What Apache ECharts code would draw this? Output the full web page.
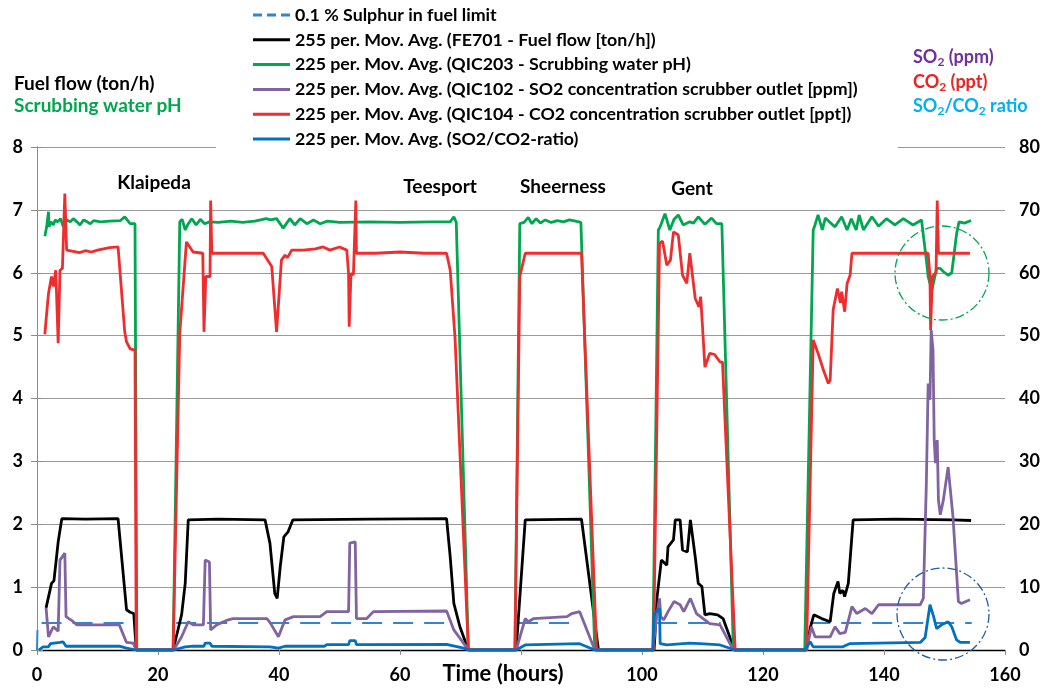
<!DOCTYPE html>
<html>
<head>
<meta charset="utf-8">
<script src="https://cdn.jsdelivr.net/npm/echarts@6/dist/echarts.min.js"></script>
<style>
  html, body { margin: 0; padding: 0; background: #fff; }
  #chart { width: 1046px; height: 688px; }
</style>
</head>
<body>
<div id="chart"></div>
<script>
// 时间轴刻度 (hours)
const xTicks = [0, 20, 40, 60, 80, 100, 120, 140, 160]

// 0.1 % S 限值 (SO2/CO2 ratio, right axis)
const sulphurLimit = [
  [0, 0], [0.1, 4.3], [14.9, 4.3], [15, null],
  [23, 4.3], [68, 4.3], [68.5, null],
  [79.5, 4.3], [89.5, 4.3], [90, null],
  [102.5, 4.3], [113, 4.3], [113.5, null],
  [127.8, 4.3], [154.5, 4.3]
]

// 燃油流量 ton/h (left axis)
const fuelFlow = [
  [1.5, 0.67], [1.8, 0.69], [2.4, 1.06], [2.8, 1.1], [3.5, 1.72], [4.1, 2.09], [8, 2.08], [13.4, 2.09],
  [14.8, 0.64], [15.4, 0.6], [16.0, 0.58], [16.4, 0],
  [22.5, 0], [23.9, 0.56], [24.5, 1.06], [25.0, 2.07], [30, 2.08], [37.7, 2.07], [38.5, 1.7], [39.3, 0.9],
  [39.7, 0.82], [40.2, 1.32], [40.8, 1.8], [41.5, 1.88], [42.3, 2.07], [55, 2.08], [67.7, 2.09],
  [68.3, 1.48], [68.9, 0.74], [69.9, 0.37], [71.3, 0],
  [79.2, 0], [80.7, 2.07], [90.0, 2.08], [92.8, 0],
  [102.0, 0], [102.5, 0.85], [103.2, 1.43], [104.1, 1.35], [104.3, 1.64], [105.2, 1.75], [105.5, 2.07],
  [106.3, 2.07], [106.7, 1.59], [107.5, 1.56], [108.0, 2.07], [108.8, 1.48], [109.3, 1.06], [109.9, 1.01],
  [110.4, 0.56], [111.2, 0.58], [112.5, 0.56], [113.4, 0.5], [115.1, 0.05], [115.3, 0],
  [127.2, 0], [127.8, 0.35], [128.4, 0.56], [129.7, 0.5], [131.1, 0.45], [131.7, 0.9], [132.4, 1.09],
  [132.7, 0.9], [133.2, 0.95], [133.5, 0.85], [134.1, 1.06], [134.9, 2.07], [142, 2.08], [151.4, 2.07], [154.4, 2.06]
]

// 洗涤水 pH (left axis)
const scrubPH = [
  [1.3, 6.58], [1.6, 6.73], [1.9, 6.97], [2.0, 6.73], [2.3, 6.81], [2.7, 6.76], [3.0, 6.84], [3.4, 6.81],
  [3.9, 6.86], [4.35, 6.73], [4.9, 6.84], [5.5, 6.81], [6.0, 6.86], [6.6, 6.81], [7.1, 6.76], [7.7, 6.84],
  [8.3, 6.81], [8.8, 6.78], [9.4, 6.83], [10.5, 6.81], [12, 6.82], [13.8, 6.83], [14.5, 6.89], [15.4, 6.78],
  [16.2, 6.78], [16.5, 0],
  [22.5, 0], [23.6, 6.81], [24.0, 6.85], [24.5, 6.68], [25.0, 6.78], [25.6, 6.86], [26.3, 6.76], [27.0, 6.85],
  [27.7, 6.78], [28.5, 6.81], [30, 6.8], [32, 6.82], [34, 6.8], [36, 6.82], [37.9, 6.86], [38.6, 6.84],
  [39.6, 6.86], [40.7, 6.71], [41.8, 6.86], [42.6, 6.76], [43.5, 6.86], [44.6, 6.78], [45.7, 6.84],
  [46.8, 6.78], [48, 6.82], [50, 6.8], [55, 6.81], [60, 6.8], [65, 6.81], [68.3, 6.81], [68.9, 6.89],
  [69.3, 6.8], [71.3, 0],
  [79.0, 0], [79.8, 6.78], [80.5, 6.8], [81.2, 6.88], [81.8, 6.78], [82.5, 6.86], [83.2, 6.79], [84, 6.84],
  [85, 6.8], [86, 6.83], [87, 6.81], [88, 6.84], [89, 6.82], [89.9, 6.8], [92.2, 0],
  [101.8, 0], [102.7, 6.68], [103.0, 6.73], [103.8, 6.94], [104.6, 6.68], [105.3, 6.85], [106.0, 6.92],
  [106.8, 6.76], [107.9, 6.81], [108.5, 6.79], [109.3, 6.89], [110.4, 6.77], [111.5, 6.87], [112.3, 6.78],
  [113.2, 6.78], [115.1, 0],
  [126.9, 0], [128.3, 6.68], [128.5, 6.73], [129.1, 6.92], [129.8, 6.68], [130.3, 6.87], [131.1, 6.8],
  [131.9, 6.73], [133.0, 6.89], [133.9, 6.68], [134.6, 6.86], [135.4, 6.68], [135.9, 6.92], [136.6, 6.68],
  [138.0, 6.89], [139.1, 6.74], [140.4, 6.86], [141.8, 6.76], [143.2, 6.86], [144.8, 6.76], [146.2, 6.84],
  [147.0, 6.2], [147.3, 5.94], [147.9, 5.72], [148.7, 6.07], [149.3, 6.07], [149.8, 6.02], [150.6, 5.96],
  [151.2, 6.0], [152.0, 6.62], [152.4, 6.81], [153.3, 6.79], [154.4, 6.83]
]

// SO2 ppm (right axis)
const so2 = [
  [1.5, 6.7], [1.9, 2.1], [2.7, 3.7], [3.5, 3.0], [3.8, 14.3], [4.1, 14.0], [4.6, 15.4], [4.8, 5.3],
  [6.0, 4.5], [6.6, 4.0], [13.6, 4.0], [14.8, 1.2], [15.9, 1.1], [16.4, 0],
  [22.6, 0], [23.9, 2.1], [25.0, 4.5], [25.8, 4.0], [27.5, 4.0], [27.8, 14.3], [28.5, 14.0], [28.7, 3.2],
  [29.7, 4.0], [31.6, 4.8], [32.4, 5.0], [38.0, 5.0], [38.5, 4.4], [39.9, 2.1], [41.0, 4.8], [42.4, 5.3],
  [46.8, 5.3], [47.9, 6.1], [51.5, 6.1], [51.7, 17.0], [52.6, 17.2], [52.8, 5.0], [54.5, 5.0], [55.6, 6.1],
  [67.7, 6.2], [68.9, 3.2], [70.5, 1.1], [71.3, 0],
  [79.2, 0], [80.7, 5.0], [81.2, 4.5], [82.1, 5.0], [87.6, 5.3], [88.4, 5.8], [89.2, 6.0], [89.7, 6.1], [92.2, 0],
  [101.8, 0], [102.4, 5.3], [102.9, 8.2], [103.1, 5.3], [103.6, 4.8], [104.3, 6.1], [105.3, 7.7],
  [106.3, 7.2], [106.9, 6.1], [108.0, 8.2], [109.0, 5.8], [110.1, 5.0], [111.2, 4.2], [112.9, 4.0], [115.1, 0],
  [127.2, 0], [128.0, 3.7], [128.6, 2.1], [131.1, 2.1], [131.9, 3.7], [132.7, 2.6], [133.6, 2.8],
  [134.7, 6.9], [135.5, 5.8], [136.9, 6.6], [138.0, 5.8], [139.1, 7.2], [146.0, 7.2], [146.5, 8.2],
  [147.0, 26.5], [147.3, 42.4], [147.6, 39.8], [147.8, 50.9], [148.1, 47.7], [148.3, 33.4], [148.5, 29.7],
  [148.8, 33.4], [149.0, 23.8], [149.3, 21.5], [149.8, 23.8], [150.6, 29.1], [150.9, 28.9], [151.4, 21.2],
  [152.3, 7.7], [152.8, 7.4], [154.2, 8.0]
]

// CO2 ppt (right axis)
const co2 = [
  [1.3, 50.2], [1.5, 52.5], [1.9, 56.7], [2.4, 59.4], [2.7, 57.8], [3.1, 60.4], [3.5, 48.8], [3.8, 60.4],
  [4.2, 60.7], [4.6, 72.6], [4.9, 63.6], [6, 63.4], [7, 63.2], [8, 63.5], [9, 63.3], [10, 63.6],
  [11, 63.8], [12, 64.0], [13.4, 64.1], [14.5, 50.6], [14.8, 49.0], [15.4, 47.9], [16.2, 47.7], [16.4, 0],
  [22.5, 0], [23.6, 50.4], [24.7, 64.9], [25.8, 63.3], [27.4, 63.1], [27.6, 50.6], [27.9, 59.4], [28.6, 59.4],
  [28.7, 71.5], [28.9, 63.1], [33, 63.1], [37.4, 63.1], [38.8, 61.0], [39.6, 50.6], [40.4, 62.0], [41.0, 62.8],
  [41.4, 62.4], [42.1, 63.6], [44, 63.6], [46, 63.8], [47.3, 64.1], [48.4, 63.6], [50, 64.1], [51.2, 63.6],
  [51.5, 59.9], [51.6, 51.4], [51.9, 59.9], [52.3, 59.7], [52.7, 71.5], [52.8, 63.1], [56, 63.1], [60, 63.3],
  [64, 63.1], [67.7, 63.1], [68.3, 60.4], [69.1, 49.6], [71.3, 0],
  [79.0, 0], [79.8, 59.4], [80.7, 63.1], [90.0, 63.1], [92.5, 0],
  [101.9, 0], [102.9, 64.7], [103.4, 65.0], [104.1, 61.2], [104.7, 62.0], [105.2, 66.5], [106.0, 66.0],
  [106.7, 59.6], [107.4, 58.3], [107.9, 63.1], [108.8, 55.9], [109.4, 54.6], [109.7, 56.2], [110.4, 45.0],
  [111.2, 47.2], [112.0, 47.0], [112.9, 45.8], [113.3, 45.8], [115.4, 0],
  [127.2, 0], [128.3, 49.3], [129.1, 47.2], [130.0, 44.5], [130.8, 42.4], [131.1, 42.9], [131.6, 54.1],
  [132.3, 57.5], [132.8, 55.2], [133.0, 57.0], [133.5, 53.8], [133.9, 58.3], [134.4, 59.6], [134.7, 63.1],
  [140, 63.1], [147.3, 63.1], [147.6, 59.4], [147.7, 50.9], [148.0, 59.4], [148.6, 60.0], [148.8, 71.5],
  [149.0, 63.1], [154.2, 63.1]
]

// SO2/CO2 ratio (right axis)
const ratio = [
  [0.3, 0], [1.0, 0.5], [1.9, 0.5], [2.2, 1.0], [3.8, 1.2], [4.3, 1.3], [4.8, 0.6], [13.6, 0.6], [14.8, 0.3], [16.4, 0],
  [22.6, 0], [24.5, 0.5], [25.8, 0.6], [27.6, 0.6], [27.8, 1.1], [28.6, 1.1], [28.9, 0.6], [38.5, 0.5],
  [39.9, 0.3], [41.0, 0.6], [47.5, 0.6], [47.9, 0.85], [51.5, 0.85], [51.7, 1.5], [52.6, 1.5], [52.8, 0.85],
  [67.7, 0.9], [70.5, 0.3], [71.3, 0],
  [79.2, 0], [80.7, 0.8], [89.7, 1.0], [92.2, 0],
  [101.8, 0], [102.0, 5.8], [102.9, 6.6], [103.0, 1.0], [104.1, 0.8], [107.9, 1.1], [109.6, 1.0], [112.9, 0.8], [115.4, 0],
  [126.9, 0], [127.8, 1.3], [128.3, 0.5], [133.2, 0.5], [134.3, 1.0], [146.0, 1.2], [146.8, 2.0], [147.6, 7.2],
  [148.2, 5.3], [148.7, 3.4], [149.5, 4.0], [150.6, 4.5], [151.2, 3.7], [152.0, 1.6], [152.6, 1.2], [154.2, 1.2]
]

const seriesNames = [
  '0.1 % Sulphur in fuel limit',
  '255 per. Mov. Avg. (FE701 - Fuel flow [ton/h])',
  '225 per. Mov. Avg. (QIC203 - Scrubbing water pH)',
  '225 per. Mov. Avg. (QIC102 - SO2 concentration scrubber outlet [ppm])',
  '225 per. Mov. Avg. (QIC104 - CO2 concentration scrubber outlet [ppt])',
  '225 per. Mov. Avg. (SO2/CO2-ratio)'
]
const portLabels = ['Klaipeda', 'Teesport', 'Sheerness', 'Gent']

const FONT = 'Lato, "Open Sans", sans-serif'
const GREEN = '#00A650'
const BLUE = '#0070C0'
const DASH_ICON = 'path://M0,0h9v3h-9zM14,0h9v3h-9zM28,0h9v3h-9z'

const line = (name, data, color, yAxisIndex, extra) => Object.assign({
  name,
  type: 'line',
  data,
  yAxisIndex,
  symbol: 'none',
  connectNulls: false,
  lineStyle: { color, width: 2.8 },
  itemStyle: { color },
  animation: false
}, extra || {})

const sub = (color) => ({
  a: { fontFamily: FONT, fontWeight: 'bold', fontSize: 18, fill: color, color },
  s: { fontFamily: FONT, fontWeight: 'bold', fontSize: 12, fill: color, color, padding: [10, 0, 0, 0] }
})

const label = (text, cx, cy, size) => ({
  type: 'text', x: cx, y: cy, z: 10,
  style: { text, fill: '#000', font: 'bold ' + (size || 19) + 'px ' + FONT, textAlign: 'center', textVerticalAlign: 'middle' }
})

const chart = echarts.init(document.getElementById('chart'))
chart.setOption({
  animation: false,
  grid: { left: 37, right: 41, top: 147, bottom: 38 },
  legend: {
    orient: 'vertical',
    left: 216,
    top: 0,
    padding: [5, 40, 3, 37],
    backgroundColor: '#fff',
    icon: 'rect',
    itemWidth: 37,
    itemHeight: 3,
    itemGap: 4.8,
    textStyle: { fontFamily: FONT, fontWeight: 'bold', fontSize: 17.8, color: '#000', lineHeight: 20 },
    data: seriesNames.map((n, i) => i === 0 ? { name: n, icon: DASH_ICON } : { name: n })
  },
  xAxis: [{
    type: 'value', min: 0, max: 160, interval: 20, position: 'bottom',
    axisLine: { lineStyle: { color: '#8c8c8c', width: 1 } },
    axisTick: { show: true, length: 5, lineStyle: { color: '#8c8c8c' } },
    axisLabel: {
      margin: 16, color: '#000', fontFamily: FONT, fontWeight: 'bold', fontSize: 18,
      formatter: v => (xTicks.includes(v) && v !== 80) ? String(v) : ''
    },
    splitLine: { show: false }
  }, {
    type: 'value', min: 0, max: 160, position: 'top',
    axisLine: { lineStyle: { color: '#000', width: 1.3 } },
    axisTick: { show: false }, axisLabel: { show: false }, splitLine: { show: false }
  }],
  yAxis: [{
    type: 'value', min: 0, max: 8, interval: 1, position: 'left',
    axisLine: { show: true, lineStyle: { color: '#8c8c8c' } },
    axisTick: { show: true, length: 6, lineStyle: { color: '#8c8c8c' } },
    axisLabel: { margin: 14, color: '#000', fontFamily: FONT, fontWeight: 'bold', fontSize: 18 },
    splitLine: { lineStyle: { color: '#9a9a9a', width: 1.2 } }
  }, {
    type: 'value', min: 0, max: 80, interval: 10, position: 'right',
    axisLine: { show: true, lineStyle: { color: '#8c8c8c' } },
    axisTick: { show: true, length: 6, lineStyle: { color: '#8c8c8c' } },
    axisLabel: { margin: 14, color: '#000', fontFamily: FONT, fontWeight: 'bold', fontSize: 18 },
    splitLine: { show: false }
  }],
  series: [
    line(seriesNames[0], sulphurLimit, '#2E86D0', 1, { lineStyle: { color: '#2E86D0', width: 2, type: [20, 11] } }),
    line(seriesNames[1], fuelFlow, '#000000', 0),
    line(seriesNames[2], scrubPH, GREEN, 0),
    line(seriesNames[3], so2, '#8064A2', 1),
    line(seriesNames[4], co2, '#EE2E2E', 1),
    line(seriesNames[5], ratio, BLUE, 1)
  ],
  graphic: [
    { type: 'text', left: 14, top: 74, z: 10, style: { text: 'Fuel flow (ton/h)', fill: '#000', font: 'bold 19px ' + FONT } },
    { type: 'text', left: 14, top: 96, z: 10, style: { text: 'Scrubbing water pH', fill: GREEN, font: 'bold 19px ' + FONT } },
    { type: 'text', left: 913, top: 48, z: 10, style: { text: '{a|SO}{s|2}{a| (ppm)}', rich: sub('#7030A0') } },
    { type: 'text', left: 913, top: 73, z: 10, style: { text: '{a|CO}{s|2}{a| (ppt)}', rich: sub('#EE2020') } },
    { type: 'text', left: 913, top: 97, z: 10, style: { text: '{a|SO}{s|2}{a|/CO}{s|2}{a| ratio}', rich: sub('#00B0F0') } },
    label(portLabels[0], 154, 183),
    label(portLabels[1], 440, 187),
    label(portLabels[2], 563, 187),
    label(portLabels[3], 692, 189),
    label('Time (hours)', 503, 674, 22),
    { type: 'circle', z: 10, shape: { cx: 942, cy: 273, r: 47 },
      style: { fill: 'none', stroke: GREEN, lineWidth: 1.3, lineDash: [9, 3, 2, 3] } },
    { type: 'circle', z: 10, shape: { cx: 943, cy: 614, r: 46 },
      style: { fill: 'none', stroke: '#1F5F9F', lineWidth: 1.3, lineDash: [9, 3, 2, 3] } }
  ]
})
</script>
</body>
</html>
